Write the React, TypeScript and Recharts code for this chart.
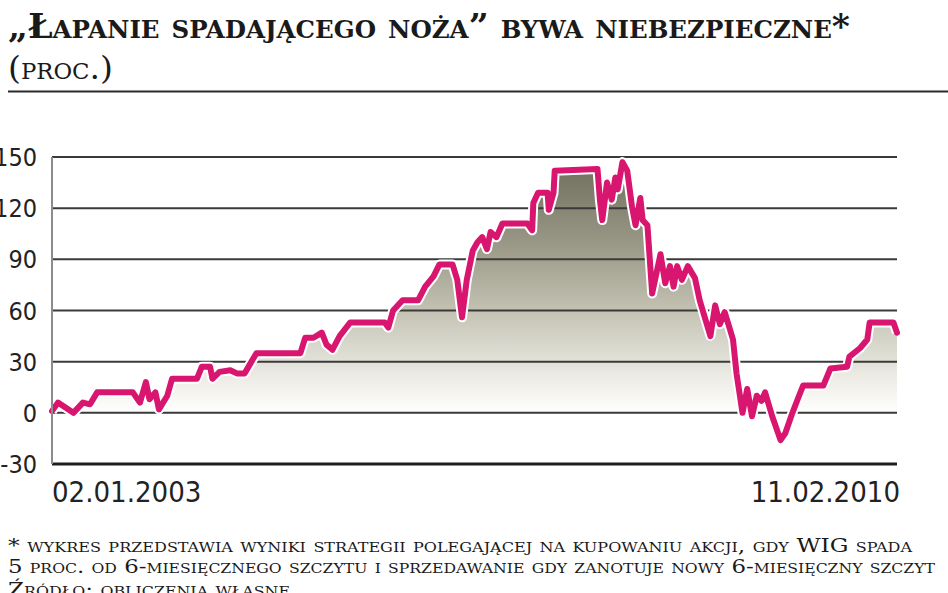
import React from 'react';
import { ComposedChart, Area, Line, XAxis, YAxis, ReferenceLine } from 'recharts';

// time axis in decimal years, values in percent
const years = [
  2003.00, 2003.05, 2003.18, 2003.26, 2003.32, 2003.38, 2003.68, 2003.74, 2003.79, 2003.82,
  2003.87, 2003.90, 2003.97, 2004.01, 2004.22, 2004.26, 2004.33, 2004.35, 2004.41, 2004.50,
  2004.56, 2004.62, 2004.67, 2004.72, 2005.09, 2005.13, 2005.20, 2005.27, 2005.31, 2005.36,
  2005.42, 2005.51, 2005.80, 2005.83, 2005.87, 2005.95, 2006.08, 2006.14, 2006.21, 2006.26,
  2006.37, 2006.41, 2006.45, 2006.49, 2006.54, 2006.58, 2006.62, 2006.66, 2006.69, 2006.74,
  2006.79, 2007.00, 2007.04, 2007.05, 2007.09, 2007.17, 2007.18, 2007.22, 2007.23, 2007.59,
  2007.61, 2007.63, 2007.67, 2007.71, 2007.74, 2007.76, 2007.80, 2007.84, 2007.88, 2007.91,
  2007.95, 2007.97, 2008.01, 2008.05, 2008.12, 2008.16, 2008.20, 2008.23, 2008.26, 2008.30,
  2008.35, 2008.41, 2008.45, 2008.54, 2008.58, 2008.62, 2008.66, 2008.70, 2008.73, 2008.76,
  2008.81, 2008.85, 2008.89, 2008.93, 2008.97, 2009.00, 2009.06, 2009.13, 2009.17, 2009.23,
  2009.28, 2009.32, 2009.49, 2009.55, 2009.69, 2009.71, 2009.80, 2009.86, 2009.88, 2010.08,
  2010.11,
];

const wynik = [
  1, 6, 0, 6, 5, 12, 12, 6, 18, 8,
  12, 2, 10, 20, 20, 27, 27, 20, 24, 25,
  23, 23, 29, 35, 35, 44, 44, 47, 40, 37,
  45, 53, 53, 50, 60, 66, 66, 74, 80, 87,
  87, 78, 56, 78, 95, 100, 103, 96, 106, 103,
  111, 111, 107, 123, 129, 129, 119, 129, 142, 143,
  125, 113, 135, 125, 138, 131, 147, 142, 121, 110,
  126, 113, 110, 70, 93, 76, 86, 74, 86, 78,
  86, 79, 66, 45, 63, 52, 59, 50, 43, 23,
  0, 14, -2, 10, 7, 12, -2, -16, -12, 0,
  9, 16, 16, 26, 27, 33, 38, 43, 53, 53,
  47,
];

const yTicks = [-30, 0, 30, 60, 90, 120, 150];
const gridValues = [0, 30, 60, 90, 120, 150];
const xTicks = [2003.0, 2010.11];
const xTickLabels = ['02.01.2003', '11.02.2010'];

const title = '„Łapanie spadającego noża” bywa niebezpieczne*';
const unit = '(proc.)';
const note1 = '* wykres przedstawia wyniki strategii polegającej na kupowaniu akcji, gdy WIG spada';
const note2 = '5 proc. od 6-miesięcznego szczytu i sprzedawanie gdy zanotuje nowy 6-miesięczny szczyt';
const source = 'Źródło: obliczenia własne';

const data = years.map((y, i) => ({ year: y, value: wynik[i] }));

const MAGENTA = '#d8156f';
const numFont = "'Liberation Sans Narrow', 'DejaVu Sans Condensed', sans-serif";
const serifFont = "'DejaVu Serif Condensed', 'DejaVu Serif', serif";

function YTick(props: any) {
  const { y, payload } = props;
  return (
    <text x={37} y={y} dy={9} textAnchor="end" fontFamily={numFont} fontSize={25} fill="#222">
      {payload.value}
    </text>
  );
}

function XTick(props: any) {
  const { x, y, index } = props;
  const first = index === 0;
  return (
    <text
      x={first ? x : x + 3}
      y={y}
      dy={30}
      textAnchor={first ? 'start' : 'end'}
      fontFamily={numFont}
      fontSize={29}
      fill="#222"
    >
      {xTickLabels[index]}
    </text>
  );
}

export default function App() {
  return (
    <div style={{ position: 'absolute', left: 0, top: 0, width: 948, height: 593, overflow: 'hidden', background: '#fff' }}>
      <ComposedChart
        width={948}
        height={593}
        data={data}
        margin={{ top: 157, right: 51, bottom: 0, left: 0 }}
      >
        <defs>
          <linearGradient id="fillGrad" gradientUnits="userSpaceOnUse" x1="0" y1="157" x2="0" y2="413">
            <stop offset="0" stopColor="#6c6b5a" />
            <stop offset="0.35" stopColor="#9b9a88" />
            <stop offset="0.6" stopColor="#c3c2b3" />
            <stop offset="0.85" stopColor="#ebeae3" />
            <stop offset="1" stopColor="#ffffff" />
          </linearGradient>
        </defs>
        <XAxis
          type="number"
          dataKey="year"
          domain={[2003.0, 2010.11]}
          ticks={xTicks}
          tick={<XTick />}
          tickLine={false}
          axisLine={{ stroke: '#1e1e1e', strokeWidth: 3 }}
          height={129}
        />
        <YAxis
          type="number"
          domain={[-30, 150]}
          ticks={yTicks}
          tick={<YTick />}
          tickLine={false}
          axisLine={{ stroke: '#8c8c8c', strokeWidth: 2 }}
          width={52}
        />
        <Area
          type="linear"
          dataKey="value"
          stroke="none"
          fill="url(#fillGrad)"
          fillOpacity={1}
          isAnimationActive={false}
        />
        {gridValues.map((v) => (
          <ReferenceLine key={v} y={v} stroke="#3a3a3a" strokeWidth={2} />
        ))}
        <Line
          type="linear"
          dataKey="value"
          stroke="#ffffff"
          strokeWidth={10}
          strokeLinejoin="round"
          dot={false}
          activeDot={false}
          isAnimationActive={false}
        />
        <Line
          type="linear"
          dataKey="value"
          stroke={MAGENTA}
          strokeWidth={6}
          strokeLinejoin="round"
          strokeLinecap="round"
          dot={false}
          activeDot={false}
          isAnimationActive={false}
        />
      </ComposedChart>

      <svg width={948} height={593} style={{ position: 'absolute', left: 0, top: 0, pointerEvents: 'none' }}>
        <text x={8} y={38} fontFamily={serifFont} fontWeight="bold" fontSize={34} fill="#1a1a1a"
          style={{ fontVariant: 'small-caps' }} textLength={842} lengthAdjust="spacingAndGlyphs">
          {title}
        </text>
        <text x={8} y={79} fontFamily={serifFont} fontSize={32} fill="#1a1a1a"
          style={{ fontVariant: 'small-caps' }} textLength={105} lengthAdjust="spacingAndGlyphs">
          {unit}
        </text>
        <line x1={8} x2={948} y1={91.5} y2={91.5} stroke="#2a2a2a" strokeWidth={2} />
        <text x={8} y={552} fontFamily={serifFont} fontSize={19} fill="#1a1a1a"
          style={{ fontVariant: 'small-caps' }} textLength={904} lengthAdjust="spacingAndGlyphs">
          {note1}
        </text>
        <text x={8} y={573} fontFamily={serifFont} fontSize={19} fill="#1a1a1a"
          style={{ fontVariant: 'small-caps' }} textLength={927} lengthAdjust="spacingAndGlyphs">
          {note2}
        </text>
        <text x={8} y={596} fontFamily={serifFont} fontSize={19} fill="#1a1a1a"
          style={{ fontVariant: 'small-caps' }} textLength={282} lengthAdjust="spacingAndGlyphs">
          {source}
        </text>
      </svg>
    </div>
  );
}
